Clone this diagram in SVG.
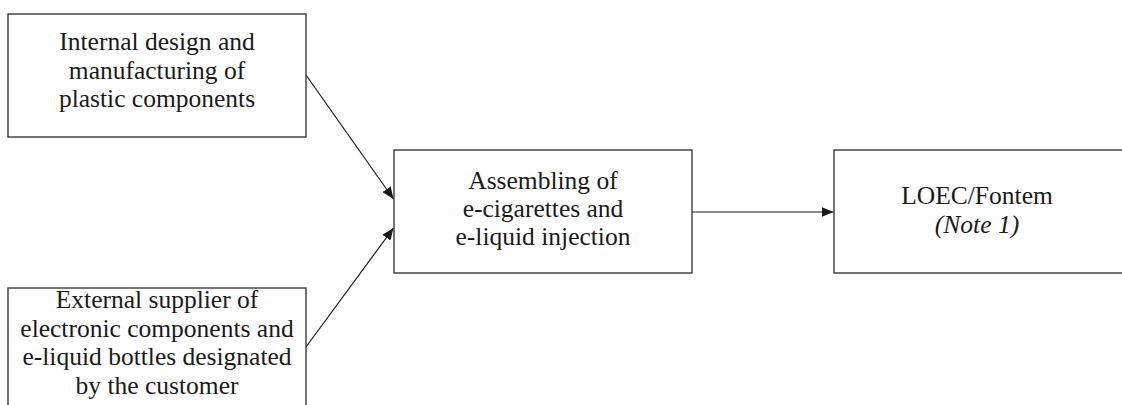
<svg xmlns="http://www.w3.org/2000/svg" width="1122" height="405" viewBox="0 0 1122 405">
<style>
.box{fill:#fff;stroke:#2a2a2a;stroke-width:1.3}
.t{font-family:"Liberation Serif","Times New Roman",serif;font-size:25.5px;fill:#1a1a1a;text-anchor:middle}
.it{font-style:italic}
.c{stroke:#1a1a1a;stroke-width:1.2;fill:none}
</style>
<defs>
<marker id="ah" viewBox="0 0 12 10" refX="12" refY="5" markerWidth="12" markerHeight="10" markerUnits="userSpaceOnUse" orient="auto">
<path d="M0,0 L12,5 L0,10 z" fill="#1a1a1a"/>
</marker>
</defs>
<rect width="1122" height="405" fill="#fff"/>
<g id="connectors">
<line class="c" x1="306" y1="75" x2="393.5" y2="199" marker-end="url(#ah)"/>
<line class="c" x1="306" y1="347" x2="393.5" y2="228" marker-end="url(#ah)"/>
<line class="c" x1="692" y1="212" x2="833.5" y2="212" marker-end="url(#ah)"/>
</g>
<g id="n1">
<rect class="box" x="8" y="14" width="298" height="123"/>
<text class="t" x="157" y="50">Internal design and</text>
<text class="t" x="157" y="78.5">manufacturing of</text>
<text class="t" x="157" y="107">plastic components</text>
</g>
<g id="n2">
<rect class="box" x="8" y="288" width="298" height="130"/>
<text class="t" x="157" y="308">External supplier of</text>
<text class="t" x="157" y="336.5">electronic components and</text>
<text class="t" x="157" y="365">e-liquid bottles designated</text>
<text class="t" x="157" y="393.5">by the customer</text>
</g>
<g id="n3">
<rect class="box" x="394" y="150" width="298" height="123"/>
<text class="t" x="543" y="189">Assembling of</text>
<text class="t" x="543" y="217">e-cigarettes and</text>
<text class="t" x="543" y="245">e-liquid injection</text>
</g>
<g id="n4">
<rect class="box" x="834" y="150" width="300" height="123"/>
<text class="t" x="977" y="204">LOEC/Fontem</text>
<text class="t it" x="977" y="233">(Note 1)</text>
</g>
</svg>
